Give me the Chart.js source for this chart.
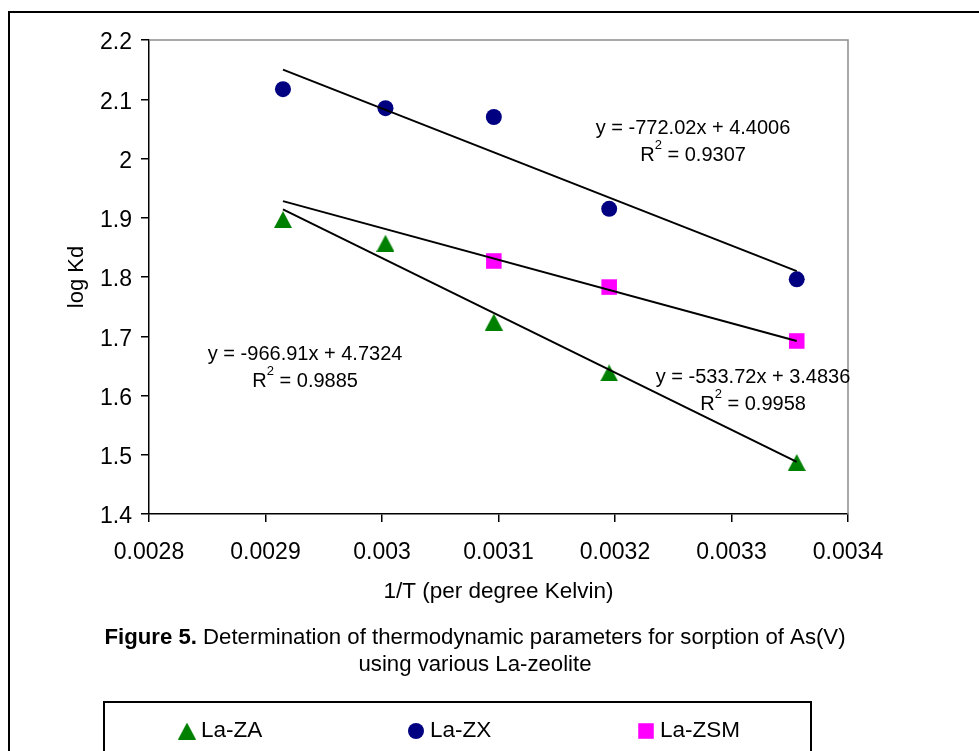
<!DOCTYPE html>
<html>
<head>
<meta charset="utf-8">
<script src="https://cdn.jsdelivr.net/npm/chart.js@4.4.1/dist/chart.umd.min.js"></script>
<style>
  html, body { margin: 0; padding: 0; background: #fff; }
  #chart { display: block; }
</style>
</head>
<body>
<canvas id="chart" width="979" height="751"></canvas>
<script>
// axis ticks
const xTicks = [0.0028, 0.0029, 0.003, 0.0031, 0.0032, 0.0033, 0.0034];
const xTickLabels = ['0.0028', '0.0029', '0.003', '0.0031', '0.0032', '0.0033', '0.0034'];
const yTicks = [1.4, 1.5, 1.6, 1.7, 1.8, 1.9, 2.0, 2.1, 2.2];
const yTickLabels = ['1.4', '1.5', '1.6', '1.7', '1.8', '1.9', '2', '2.1', '2.2'];

// measured points (1/T vs log Kd)
const invT = [0.002915, 0.003003, 0.003096, 0.003195, 0.003356];
const zaLogKd = [1.897, 1.857, 1.724, 1.638, 1.487];
const zxLogKd = [2.117, 2.085, 2.070, 1.915, 1.796];
const zsmInvT = [0.003096, 0.003195, 0.003356];
const zsmLogKd = [1.827, 1.783, 1.692];

// linear trendlines (end points)
const fitInvT = [0.002915, 0.003356];
const zaFit = [1.914, 1.488];
const zxFit = [2.150, 1.810];
const zsmFit = [1.928, 1.692];

const seriesNames = ['La-ZA', 'La-ZX', 'La-ZSM'];
const fitEquations = ['y = -966.91x + 4.7324', 'y = -772.02x + 4.4006', 'y = -533.72x + 3.4836'];
const fitR2 = ['0.9885', '0.9307', '0.9958'];
// where each equation label sits, in data coordinates (centre of text)
const labelX = [0.002934, 0.003267, 0.0033185];
const labelY = [1.670, 2.0515, 1.631];

const toPoints = (xs, ys) => xs.map((x, i) => ({ x: x, y: ys[i] }));

const FONT = '"Liberation Sans", Arial, sans-serif';

// Excel style triangle marker, centred on its bounding box
function triangleMarker(color) {
    const c = document.createElement('canvas');
    c.width = 18;
    c.height = 17;
    const g = c.getContext('2d');
    g.fillStyle = color;
    g.beginPath();
    g.moveTo(9, 0);
    g.lineTo(18, 17);
    g.lineTo(0, 17);
    g.closePath();
    g.fill();
    return c;
}

function fitLine(ys) {
    return {
        data: toPoints(fitInvT, ys),
        showLine: true,
        borderColor: '#000',
        borderWidth: 2,
        pointRadius: 0,
        pointHoverRadius: 0,
        order: 0
    };
}

// extra drawing: frame, equations, caption and the boxed legend
const decorations = {
    id: 'decorations',
    beforeDraw(chart) {
        const ctx = chart.ctx;
        ctx.save();
        ctx.fillStyle = '#fff';
        ctx.fillRect(0, 0, chart.width, chart.height);
        ctx.restore();
    },
    afterDraw(chart) {
        const ctx = chart.ctx;
        const area = chart.chartArea;
        const xs = chart.scales.x, ys = chart.scales.y;
        ctx.save();

        // grey plot border on top and right
        ctx.strokeStyle = '#8c8c8c';
        ctx.lineWidth = 1.5;
        ctx.beginPath();
        ctx.moveTo(area.left, area.top);
        ctx.lineTo(area.right, area.top);
        ctx.lineTo(area.right, area.bottom);
        ctx.stroke();

        // outer frame
        ctx.strokeStyle = '#000';
        ctx.lineWidth = 2;
        ctx.strokeRect(9, 12, 990, 760);

        // trendline equations
        ctx.fillStyle = '#000';
        ctx.textBaseline = 'middle';
        for (let i = 0; i < fitEquations.length; i++) {
            const cx = xs.getPixelForValue(labelX[i]);
            const cy = ys.getPixelForValue(labelY[i]);
            ctx.font = '20px ' + FONT;
            ctx.textAlign = 'center';
            ctx.fillText(fitEquations[i], cx, cy);

            const rest = ' = ' + fitR2[i];
            const wR = ctx.measureText('R').width;
            const wRest = ctx.measureText(rest).width;
            ctx.font = '13px ' + FONT;
            const w2 = ctx.measureText('2').width;
            let x0 = cx - (wR + w2 + wRest) / 2;
            const y2 = cy + 27;
            ctx.textAlign = 'left';
            ctx.font = '20px ' + FONT;
            ctx.fillText('R', x0, y2);
            ctx.font = '13px ' + FONT;
            ctx.fillText('2', x0 + wR, y2 - 10);
            ctx.font = '20px ' + FONT;
            ctx.fillText(rest, x0 + wR + w2, y2);
        }

        // caption
        const capX = 475;
        ctx.font = 'bold 22.2px ' + FONT;
        const bold = 'Figure 5.';
        const wb = ctx.measureText(bold).width;
        ctx.font = '22.2px ' + FONT;
        const plain = ' Determination of thermodynamic parameters for sorption of As(V)';
        const wp = ctx.measureText(plain).width;
        let sx = capX - (wb + wp) / 2;
        ctx.textAlign = 'left';
        ctx.font = 'bold 22.2px ' + FONT;
        ctx.fillText(bold, sx, 638);
        ctx.font = '22.2px ' + FONT;
        ctx.fillText(plain, sx + wb, 638);
        ctx.textAlign = 'center';
        ctx.fillText('using various La-zeolite', capX, 665);

        // legend box
        ctx.strokeStyle = '#000';
        ctx.lineWidth = 2;
        ctx.strokeRect(104, 702, 707, 80);
        const markerX = [187, 416, 646];
        const ly = 731;
        const markerDs = chart.data.datasets.filter(d => !d.showLine);
        markerDs.forEach((d, i) => {
            ctx.fillStyle = d.backgroundColor;
            ctx.strokeStyle = d.borderColor;
            Chart.helpers.drawPoint(ctx, {
                pointStyle: d.pointStyle,
                radius: d.pointRadius,
                rotation: 0,
                borderWidth: 0
            }, markerX[i], ly);
            ctx.fillStyle = '#000';
            ctx.textAlign = 'left';
            ctx.font = '22.5px ' + FONT;
            ctx.fillText(d.label, markerX[i] + 14, ly);
        });

        ctx.restore();
    }
};

new Chart(document.getElementById('chart'), {
    type: 'scatter',
    data: {
        datasets: [
            {
                label: seriesNames[0],
                data: toPoints(invT, zaLogKd),
                pointStyle: triangleMarker('#008000'),
                pointRadius: 9,
                backgroundColor: '#008000',
                borderColor: '#008000',
                borderWidth: 0,
                order: 1
            },
            {
                label: seriesNames[1],
                data: toPoints(invT, zxLogKd),
                pointStyle: 'circle',
                pointRadius: 8,
                backgroundColor: '#000080',
                borderColor: '#000080',
                borderWidth: 0,
                order: 1
            },
            {
                label: seriesNames[2],
                data: toPoints(zsmInvT, zsmLogKd),
                pointStyle: 'rect',
                pointRadius: 11,
                backgroundColor: '#ff00ff',
                borderColor: '#ff00ff',
                borderWidth: 0,
                order: 1
            },
            fitLine(zaFit),
            fitLine(zxFit),
            fitLine(zsmFit)
        ]
    },
    options: {
        responsive: false,
        animation: false,
        devicePixelRatio: 1,
        layout: { padding: { left: 64, top: 40, right: 131, bottom: 146 } },
        plugins: {
            legend: { display: false },
            tooltip: { enabled: false }
        },
        scales: {
            x: {
                type: 'linear',
                min: 0.0028,
                max: 0.0034,
                afterBuildTicks: s => { s.ticks = xTicks.map(v => ({ value: v })); },
                afterFit: s => { s.height = 91; },
                ticks: {
                    callback: (v, i) => xTickLabels[i],
                    color: '#000',
                    padding: 17,
                    maxRotation: 0,
                    font: { family: FONT, size: 23 }
                },
                grid: { display: true, drawOnChartArea: false, drawTicks: true, tickLength: 8, color: '#000', lineWidth: 1.5 },
                border: { display: true, color: '#000', width: 1.5 },
                title: {
                    display: true,
                    text: '1/T (per degree Kelvin)',
                    color: '#000',
                    padding: 0,
                    font: { family: FONT, size: 22.5, lineHeight: 1.2 }
                }
            },
            y: {
                type: 'linear',
                min: 1.4,
                max: 2.2,
                afterBuildTicks: s => { s.ticks = yTicks.map(v => ({ value: v })); },
                afterFit: s => { s.width = 85; },
                ticks: {
                    callback: (v, i) => yTickLabels[i],
                    color: '#000',
                    padding: 9,
                    labelOffset: 3,
                    font: { family: FONT, size: 23 }
                },
                grid: { display: true, drawOnChartArea: false, drawTicks: true, tickLength: 8, color: '#000', lineWidth: 1.5 },
                border: { display: true, color: '#000', width: 1.5 },
                title: {
                    display: true,
                    text: 'log Kd',
                    color: '#000',
                    padding: 0,
                    font: { family: FONT, size: 22, lineHeight: 1.2 }
                }
            }
        }
    },
    plugins: [decorations]
});
</script>
</body>
</html>
